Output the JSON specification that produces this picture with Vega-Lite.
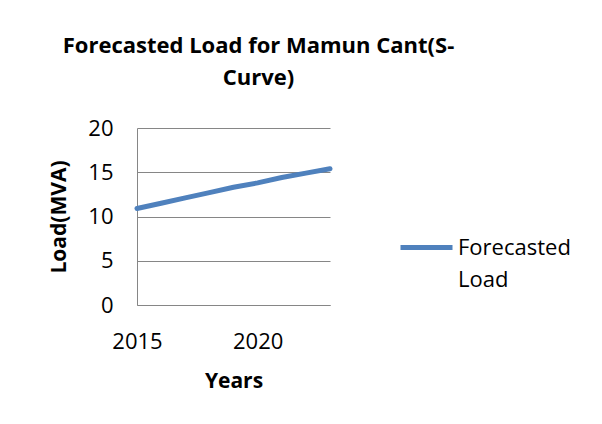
{
  "$schema": "https://vega.github.io/schema/vega-lite/v6.json",
  "width": 193,
  "height": 177,
  "autosize": {"type": "none"},
  "padding": {"left": 137, "top": 128, "right": 272, "bottom": 119},
  "background": "white",
  "config": {
    "view": {"stroke": null},
    "font": "Open Sans",
    "style": {"guide-label": {"lineHeight": 32}}
  },
  "title": {
    "text": ["Forecasted Load for Mamun Cant(S-", "Curve)"],
    "fontSize": 22,
    "fontWeight": "bold",
    "font": "Open Sans",
    "color": "black",
    "anchor": "middle",
    "frame": "group",
    "dx": 25,
    "baseline": "alphabetic",
    "lineHeight": 32,
    "offset": 10
  },
  "data": {
    "values": [
      {"year": 2015, "load": 10.9, "series": "Forecasted Load"},
      {"year": 2016, "load": 11.5, "series": "Forecasted Load"},
      {"year": 2017, "load": 12.1, "series": "Forecasted Load"},
      {"year": 2018, "load": 12.7, "series": "Forecasted Load"},
      {"year": 2019, "load": 13.3, "series": "Forecasted Load"},
      {"year": 2020, "load": 13.8, "series": "Forecasted Load"},
      {"year": 2021, "load": 14.4, "series": "Forecasted Load"},
      {"year": 2022, "load": 14.9, "series": "Forecasted Load"},
      {"year": 2023, "load": 15.4, "series": "Forecasted Load"}
    ]
  },
  "mark": {"type": "line", "strokeWidth": 5, "strokeCap": "round"},
  "encoding": {
    "x": {
      "field": "year",
      "type": "quantitative",
      "scale": {"domain": [2015, 2023], "nice": false, "zero": false},
      "axis": {
        "values": [2015, 2020],
        "format": "d",
        "grid": false,
        "ticks": false,
        "domain": true,
        "domainColor": "#868686",
        "domainWidth": 1,
        "labelFontSize": 22,
        "labelColor": "black",
        "labelPadding": 26,
        "labelFlush": false,
        "title": "Years",
        "titleFontSize": 21,
        "titleFontWeight": "bold",
        "titleColor": "black",
        "titlePadding": 18
      }
    },
    "y": {
      "field": "load",
      "type": "quantitative",
      "scale": {"domain": [0, 20], "nice": false},
      "axis": {
        "values": [0, 5, 10, 15, 20],
        "grid": true,
        "gridColor": "#868686",
        "gridWidth": 1,
        "ticks": false,
        "domain": true,
        "domainColor": "#868686",
        "domainWidth": 1,
        "labelFontSize": 22,
        "labelColor": "black",
        "labelPadding": 24,
        "title": "Load(MVA)",
        "titleFontSize": 21,
        "titleFontWeight": "bold",
        "titleColor": "black",
        "titlePadding": 18
      }
    },
    "color": {
      "field": "series",
      "type": "nominal",
      "scale": {"range": ["#4F81BD"]},
      "legend": {
        "title": null,
        "orient": "none",
        "legendX": 261,
        "legendY": 91,
        "symbolType": "stroke",
        "symbolSize": 2704,
        "symbolStrokeWidth": 5,
        "labelFontSize": 22,
        "labelColor": "black",
        "labelOffset": 3,
        "labelExpr": "['Forecasted', 'Load']",
        "labelLimit": 300
      }
    }
  }
}
